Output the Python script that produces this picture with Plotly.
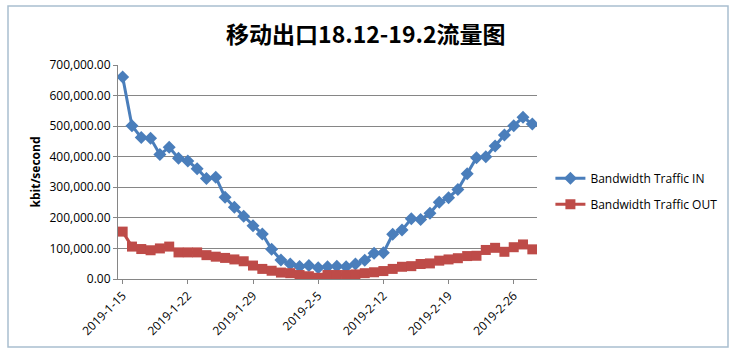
import pandas as pd
import plotly.graph_objects as go

dates = pd.date_range("2019-01-15", "2019-02-28", freq="D")

traffic_in = [661000, 501000, 463000, 460000, 407000, 431000, 395000, 386000, 361000, 329000,
              333000, 267000, 235000, 205000, 174000, 147000, 97000, 62000, 49000, 41000,
              44000, 37000, 40000, 42000, 40000, 49000, 61000, 84000, 86000, 146000,
              160000, 197000, 195000, 215000, 251000, 266000, 293000, 344000, 397000, 400000,
              435000, 471000, 501000, 529000, 507000]

traffic_out = [155000, 106000, 98000, 94000, 100000, 106000, 87000, 87000, 87000, 78000,
               73000, 69000, 64000, 58000, 44000, 33000, 27000, 21000, 19000, 13000,
               9000, 4000, 13000, 13000, 13000, 15000, 19000, 22000, 26000, 33000,
               40000, 42000, 49000, 51000, 60000, 64000, 68000, 75000, 76000, 95000,
               102000, 89000, 104000, 113000, 97000]

title_text = "移动出口18.12-19.2流量图"
y_title = "kbit/second"
name_in = "Bandwidth Traffic IN"
name_out = "Bandwidth Traffic OUT"

fig = go.Figure()
fig.add_trace(go.Scatter(x=dates, y=traffic_in, name=name_in, mode="lines+markers",
                         legendgroup="a",
                         line=dict(color="#4A7EBB", width=3),
                         marker=dict(symbol="diamond", size=10, color="#4A7EBB")))
fig.add_trace(go.Scatter(x=dates, y=traffic_out, name=name_out, mode="lines+markers",
                         legendgroup="b",
                         line=dict(color="#BE4B48", width=3),
                         marker=dict(symbol="square", size=10, color="#BE4B48")))

tick_font = dict(family="Open Sans, Liberation Sans, sans-serif", size=12, color="#000000")

fig.update_layout(
    width=736, height=355,
    margin=dict(l=118, r=199, t=65, b=76),
    paper_bgcolor="#FFFFFF", plot_bgcolor="#FFFFFF",
    title=dict(text=title_text, x=0.497, xanchor="center", xref="container",
               y=1 - 35 / 355, yanchor="middle",
               font=dict(family="Noto Sans CJK SC", size=23, color="#000000", weight="bold")),
    xaxis=dict(type="date",
               range=[pd.Timestamp("2019-01-14 12:00"), pd.Timestamp("2019-02-28 12:00")],
               tickmode="linear", tick0="2019-01-15", dtick=7 * 24 * 3600 * 1000,
               tickformat="%Y-%-m-%-d", tickangle=-45, tickfont=tick_font,
               showgrid=False, showline=True, linecolor="#868686", linewidth=1,
               ticks="outside", ticklen=4, tickcolor="#868686", zeroline=False),
    yaxis=dict(range=[0, 700000], tickmode="linear", tick0=0, dtick=100000,
               tickformat=",.2f", tickfont=tick_font,
               showgrid=True, gridcolor="#868686", gridwidth=1,
               showline=True, linecolor="#868686", linewidth=1,
               ticks="outside", ticklen=4, tickcolor="#868686", zeroline=False,
               title=dict(text=y_title, standoff=6,
                          font=dict(family="Open Sans, Liberation Sans, sans-serif", size=12,
                                    color="#000000", weight="bold"))),
    legend=dict(x=1.032, xanchor="left", y=0.41, yanchor="middle",
                traceorder="grouped", tracegroupgap=7,
                font=dict(family="Open Sans, Liberation Sans, sans-serif", size=12, color="#000000"),
                bgcolor="rgba(0,0,0,0)"),
    shapes=[dict(type="rect", xref="paper", yref="paper",
                 x0=(8 - 118) / 419, x1=(728 - 118) / 419,
                 y0=(279 - 347) / 214, y1=(279 - 6) / 214,
                 line=dict(color="#A9BFCF", width=1.5), fillcolor="rgba(0,0,0,0)", layer="below")],
)

fig.write_html("out.html")
